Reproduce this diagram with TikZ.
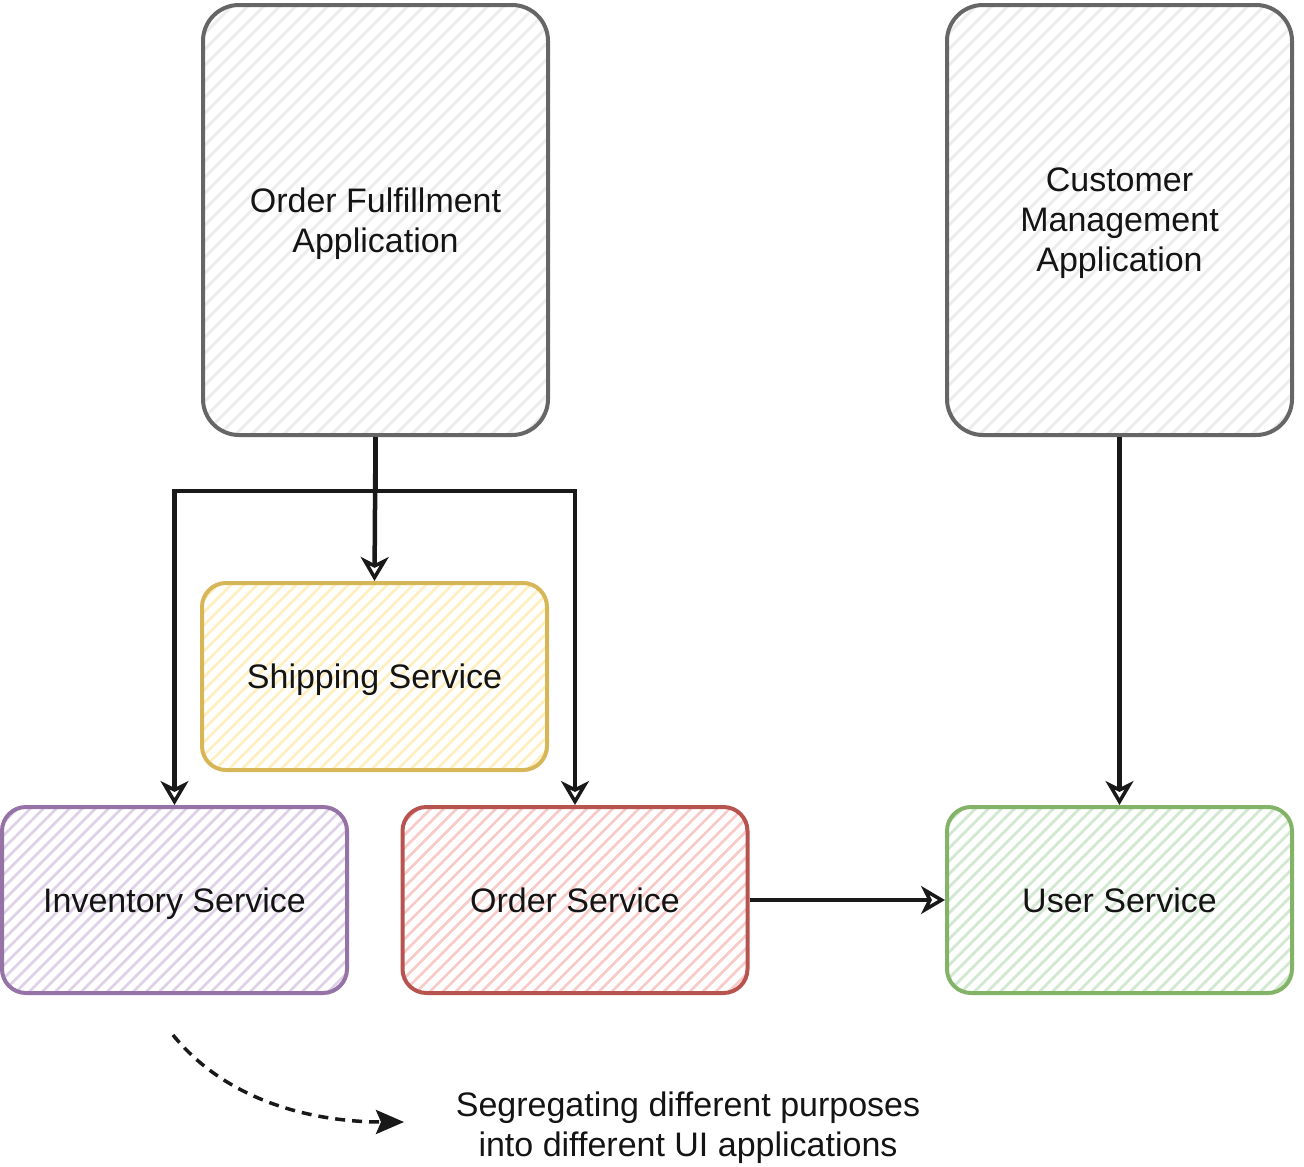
\documentclass[tikz,border=0pt]{standalone}
\usepackage{fontspec}
\setmainfont{Liberation Sans}
\usetikzlibrary{calc,arrows.meta}
\definecolor{grayline}{HTML}{666666}
\definecolor{grayhatch}{HTML}{EDEDED}
\definecolor{yline}{HTML}{D6B656}
\definecolor{yhatch}{HTML}{FFEFBF}
\definecolor{pline}{HTML}{9673A6}
\definecolor{phatch}{HTML}{DED0E6}
\definecolor{rline}{HTML}{B85450}
\definecolor{rhatch}{HTML}{F8CAC8}
\definecolor{gline}{HTML}{82B366}
\definecolor{ghatch}{HTML}{D2E8D0}
\definecolor{txt}{HTML}{141414}
\tikzset{
  hatched/.style n args={3}{path picture={
    \foreach \i in {-40,...,30}{
      \draw[#1,line width=#3] ($(path picture bounding box.south west)+(\i*#2,0)$) -- ++(520pt,520pt);
    }}},
  basebox/.style={draw, line width=4pt, align=center, text=txt,
    font=\fontsize{34}{40}\selectfont, inner sep=0pt, text depth=-9pt},
  appbox/.style={basebox, draw=grayline, hatched={grayhatch}{16pt}{3pt}, rounded corners=36pt,
    minimum width=345pt, minimum height=430pt},
  svcbox/.style={basebox, draw=#1line, hatched={#1hatch}{13pt}{2.8pt}, rounded corners=24pt,
    minimum width=345pt, minimum height=186pt},
  arr/.style={draw=black!90, line width=4.5pt,
    -{Stealth[open, length=24pt, width=28pt, inset=7pt, line width=3.5pt]}},
  dasharr/.style={draw=black!90, line width=3.5pt, dash pattern=on 10pt off 7pt,
    -{Stealth[length=28pt, width=24pt, inset=5pt]}},
  caption/.style={align=center, text=txt, font=\fontsize{34}{40}\selectfont, inner sep=0pt}
}
\begin{document}
\begin{tikzpicture}[x=1pt,y=-1pt]
\useasboundingbox (0,0) rectangle (1304,1167);
\node[appbox] (of) at (375.5,220) {Order Fulfillment\\Application};
\node[appbox] (cm) at (1119.5,220) {Customer\\Management\\Application};
\node[svcbox=y, minimum height=187pt] (ship) at (374.5,676.5) {Shipping Service};
\node[svcbox=p] (inv) at (174.5,900) {Inventory Service};
\node[svcbox=r] (os) at (575,900) {Order Service};
\node[svcbox=g] (us) at (1119.5,900) {User Service};
\coordinate (j) at (375.5,491);
\draw[arr] (of.south) -- (ship.north);
\draw[arr] (of.south) -- (j) -| (inv.north);
\draw[arr] (of.south) -- (j) -| (os.north);
\draw[arr] (cm.south) -- (us.north);
\draw[arr] (os.east) -- (us.west);
\coordinate (ds) at (173,1035);
\coordinate (de) at (404,1122);
\draw[dasharr] (ds) .. controls (230,1105) and (320,1122) .. (de);
\node[caption] (cap) at (688,1128) {Segregating different purposes\\into different UI applications};
\end{tikzpicture}
\end{document}
